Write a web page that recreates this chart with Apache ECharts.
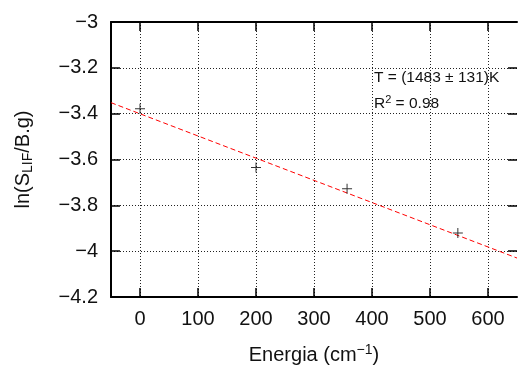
<!DOCTYPE html>
<html>
<head>
<meta charset="utf-8">
<script src="https://cdn.jsdelivr.net/npm/echarts@6/dist/echarts.min.js"></script>
<style>
  html, body { margin: 0; padding: 0; background: #fff; }
  #chart { width: 518px; height: 365px; }
</style>
</head>
<body>
<div id="chart"></div>
<script>
// measured points: energy (cm^-1) vs ln(S_LIF / B.g)
const energia = [0, 200, 357, 548];
const lnSignal = [-3.379, -3.635, -3.728, -3.921];

// fitted line, end points
const fitX = [-50, 650];
const fitY = [-3.352, -4.03];

const xTicks = [0, 100, 200, 300, 400, 500, 600];
const annotT = "T = (1483 ± 131)K";
const annotR2 = "0.98";

const FONT = "'Liberation Sans', Arial, sans-serif";
const minus = (v) => String(Number(v.toFixed(1))).replace("-", "\u2212");

const chart = echarts.init(document.getElementById("chart"));

const option = {
  animation: false,
  textStyle: { fontFamily: FONT },
  grid: { left: 111, right: 1, top: 22, bottom: 68, outerBoundsMode: "none", containLabel: false },
  xAxis: [
    {
      type: "value",
      min: -50,
      max: 650,
      name: "{a|Energia (cm}{sup|\u22121}{a|)}",
      nameLocation: "middle",
      nameGap: 46,
      nameTextStyle: {
        rich: {
          a: { fontSize: 20, color: "#111", fontFamily: FONT },
          sup: { fontSize: 14, color: "#111", fontFamily: FONT, padding: [0, 0, 11, 0] },
        },
      },
      axisLine: { show: true, onZero: false, lineStyle: { color: "#000", width: 2 } },
      axisTick: { show: true, inside: true, length: 9, customValues: xTicks, lineStyle: { color: "#000", width: 1.5 } },
      axisLabel: { customValues: xTicks, fontSize: 20, color: "#111", margin: 12, fontFamily: FONT },
      splitLine: { show: true, lineStyle: { color: "#222", type: [1, 2], width: 1 } },
    },
    {
      type: "value",
      position: "top",
      min: -50,
      max: 650,
      axisLine: { show: true, onZero: false, lineStyle: { color: "#000", width: 2 } },
      axisTick: { show: true, inside: true, length: 9, customValues: xTicks, lineStyle: { color: "#000", width: 1.5 } },
      axisLabel: { show: false },
      splitLine: { show: false },
    },
  ],
  yAxis: [
    {
      type: "value",
      min: -4.2,
      max: -3,
      interval: 0.2,
      name: "{a|ln(S}{sub|LIF}{a|/B.g)}",
      nameLocation: "middle",
      nameRotate: 90,
      nameGap: 76,
      nameTextStyle: {
        rich: {
          a: { fontSize: 20, color: "#111", fontFamily: FONT },
          sub: { fontSize: 14, color: "#111", fontFamily: FONT, padding: [9, 0, 0, 0] },
        },
      },
      axisLine: { show: true, onZero: false, lineStyle: { color: "#000", width: 2 } },
      axisTick: { show: true, inside: true, length: 9, lineStyle: { color: "#000", width: 1.5 } },
      axisLabel: { fontSize: 20, color: "#111", margin: 13, fontFamily: FONT, formatter: minus },
      splitLine: { show: true, lineStyle: { color: "#222", type: [1, 2], width: 1 } },
    },
    {
      type: "value",
      position: "right",
      min: -4.2,
      max: -3,
      interval: 0.2,
      axisLine: { show: false, onZero: false },
      axisTick: { show: true, inside: true, length: 9, lineStyle: { color: "#000", width: 1.5 } },
      axisLabel: { show: false },
      splitLine: { show: false },
    },
  ],
  series: [
    {
      type: "line",
      data: fitX.map((x, i) => [x, fitY[i]]),
      symbol: "none",
      lineStyle: { color: "#ff0000", width: 1, type: [5, 3] },
      z: 2,
    },
    {
      type: "scatter",
      data: energia.map((x, i) => [x, lnSignal[i]]),
      symbol: "path://M4.5,0h1v10h-1z M0,4.5h10v1h-10z",
      symbolSize: 10,
      itemStyle: { color: "#000" },
      z: 3,
    },
  ],
  graphic: [
    {
      type: "text",
      left: 374,
      top: 70,
      style: { text: annotT, fontSize: 15.5, fill: "#111", fontFamily: FONT },
    },
    {
      type: "text",
      left: 374,
      top: 94,
      style: {
        text: "{a|R}{sup|2}{a| = " + annotR2 + "}",
        rich: {
          a: { fontSize: 15.5, fill: "#111", fontFamily: FONT },
          sup: { fontSize: 11, fill: "#111", fontFamily: FONT, padding: [0, 0, 9, 0] },
        },
      },
    },
  ],
};

chart.setOption(option);
window.addEventListener("resize", () => chart.resize());
</script>
</body>
</html>
